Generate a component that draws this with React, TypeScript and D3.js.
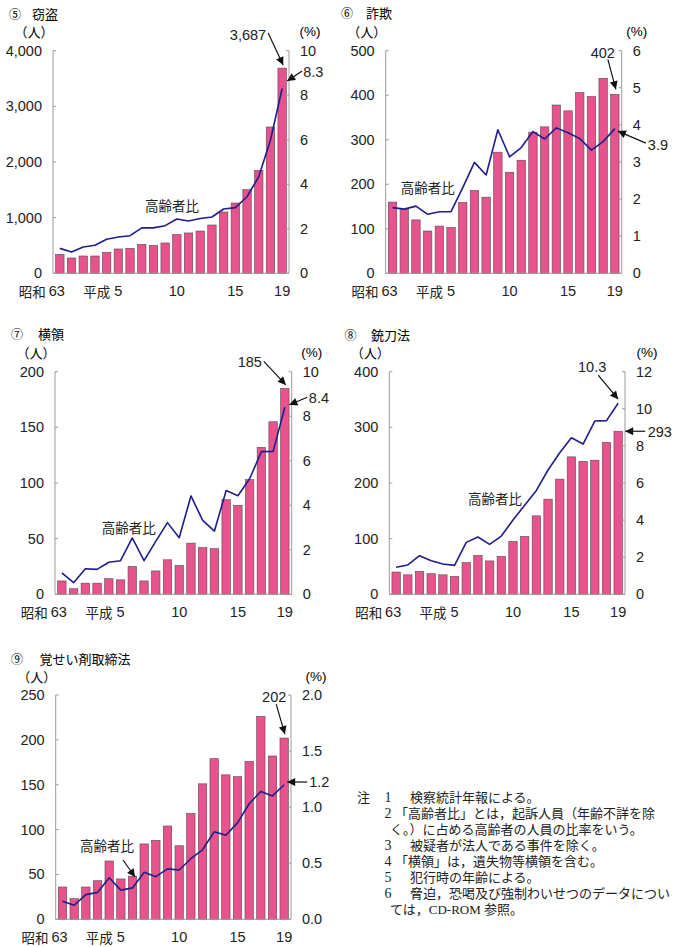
import React from "react";
import * as d3 from "d3";

// ---------- data ----------
const categories = ["昭和63", "平成元", "2", "3", "4", "5", "6", "7", "8", "9", "10", "11", "12", "13", "14", "15", "16", "17", "18", "19"];
const xTickIndex = [0, 5, 10, 15, 19];
const xTickNumber = ["63", "5", "10", "15", "19"];
const xTickEra = ["昭和", "平成", "", "", ""];

const theftCount = [340, 275, 311, 311, 377, 437, 449, 521, 503, 545, 695, 725, 760, 868, 1102, 1263, 1503, 1850, 2629, 3687];
const theftRatio = [1.12, 0.96, 1.18, 1.26, 1.53, 1.63, 1.69, 2.04, 2.04, 2.14, 2.44, 2.35, 2.46, 2.53, 2.89, 2.95, 3.44, 4.34, 5.99, 8.3];
const theftLeftTicks = [0, 1000, 2000, 3000, 4000];
const theftRightTicks = [0, 2, 4, 6, 8, 10];

const fraudCount = [160, 144, 120, 95, 106, 103, 159, 186, 171, 272, 227, 254, 317, 329, 378, 365, 406, 397, 438, 402];
const fraudRatio = [1.77, 1.73, 1.81, 1.59, 1.66, 1.66, 2.31, 2.99, 2.65, 3.87, 3.14, 3.39, 3.82, 3.62, 3.92, 3.79, 3.63, 3.32, 3.55, 3.9];
const fraudLeftTicks = [0, 100, 200, 300, 400, 500];
const fraudRightTicks = [0, 1, 2, 3, 4, 5, 6];

const embezzleCount = [12, 5, 10, 10, 14, 13, 25, 12, 21, 31, 26, 46, 42, 41, 85, 80, 103, 132, 155, 185];
const embezzleRatio = [0.96, 0.52, 1.15, 1.12, 1.44, 1.51, 2.53, 1.51, 2.38, 3.22, 2.54, 4.42, 3.32, 2.84, 4.66, 4.43, 5.19, 6.41, 6.42, 8.4];
const embezzleLeftTicks = [0, 50, 100, 150, 200];
const embezzleRightTicks = [0, 2, 4, 6, 8, 10];

const weaponsCount = [40, 35, 41, 37, 35, 32, 57, 70, 60, 68, 95, 104, 141, 171, 207, 247, 239, 241, 273, 293];
const weaponsRatio = [1.46, 1.58, 2.08, 1.81, 1.63, 1.56, 2.8, 3.09, 2.69, 3.14, 4.01, 4.8, 5.6, 6.7, 7.63, 8.44, 8.1, 9.34, 9.36, 10.3];
const weaponsLeftTicks = [0, 100, 200, 300, 400];
const weaponsRightTicks = [0, 2, 4, 6, 8, 10, 12];

const stimCount = [36, 23, 36, 43, 65, 45, 48, 84, 88, 104, 82, 118, 151, 179, 161, 159, 176, 226, 182, 202];
const stimRatio = [0.16, 0.125, 0.22, 0.24, 0.37, 0.26, 0.28, 0.42, 0.38, 0.45, 0.44, 0.54, 0.62, 0.78, 0.75, 0.86, 1.03, 1.14, 1.1, 1.2];
const stimLeftTicks = [0, 50, 100, 150, 200, 250];
const stimRightTicks = [0, 0.5, 1.0, 1.5, 2.0];

const notes = [
  { num: "注", sub: "1", text: "検察統計年報による。" },
  { num: "", sub: "2", text: "「高齢者比」とは，起訴人員（年齢不詳を除" },
  { num: "", sub: "", text: "く。）に占める高齢者の人員の比率をいう。" },
  { num: "", sub: "3", text: "被疑者が法人である事件を除く。" },
  { num: "", sub: "4", text: "「横領」は，遺失物等横領を含む。" },
  { num: "", sub: "5", text: "犯行時の年齢による。" },
  { num: "", sub: "6", text: "脅迫，恐喝及び強制わいせつのデータについ" },
  { num: "", sub: "", text: "ては，CD-ROM 参照。" },
];

// ---------- layout ----------
const comma = d3.format(",");
const intF = d3.format("d");
const oneF = d3.format(".1f");

const panels = [
  {
    num: "⑤", name: "窃盗", count: theftCount, ratio: theftRatio, lt: theftLeftTicks, rt: theftRightTicks,
    lfmt: comma, rfmt: intF, x0: 53, x1: 289, y0: 50.7, y1: 273.3, numX: 9, nameX: 32, titleY: 13,
    pctDx: 21, ratioLabel: [145, 205],
    notes: [
      { on: "bar", text: "3,687", tip: [1, -3], tail: [-14, -35], label: [-16, -33], anchor: "end" },
      { on: "line", text: "8.3", tip: [5, -7.5], tail: [20, -17.5], label: [21, -16.5], anchor: "start" },
    ],
  },
  {
    num: "⑥", name: "詐欺", count: fraudCount, ratio: fraudRatio, lt: fraudLeftTicks, rt: fraudRightTicks,
    lfmt: intF, rfmt: intF, x0: 385.7, x1: 621.7, y0: 50.7, y1: 273.3, numX: 341, nameX: 366, titleY: 12.5,
    pctDx: 15, ratioLabel: [400.7, 187],
    notes: [
      { on: "bar", text: "402", tip: [1, -5], tail: [-7, -35], label: [-12, -41], anchor: "middle" },
      { on: "line", text: "3.9", tip: [3, 2.5], tail: [31, 14.5], label: [33, 16.5], anchor: "start" },
    ],
  },
  {
    num: "⑦", name: "横領", count: embezzleCount, ratio: embezzleRatio, lt: embezzleLeftTicks, rt: embezzleRightTicks,
    lfmt: intF, rfmt: intF, x0: 55, x1: 291.7, y0: 371.7, y1: 594.3, numX: 11, nameX: 38, titleY: 333.3,
    pctDx: 20, ratioLabel: [101.7, 526.7],
    notes: [
      { on: "bar", text: "185", tip: [1, -3.5], tail: [-21, -27], label: [-23, -26.7], anchor: "end" },
      { on: "line", text: "8.4", tip: [4.5, -2.5], tail: [22.5, -10], label: [24, -9], anchor: "start" },
    ],
  },
  {
    num: "⑧", name: "銃刀法", count: weaponsCount, ratio: weaponsRatio, lt: weaponsLeftTicks, rt: weaponsRightTicks,
    lfmt: intF, rfmt: intF, x0: 389.3, x1: 625, y0: 371.7, y1: 594.3, numX: 344.5, nameX: 371, titleY: 334,
    pctDx: 22, ratioLabel: [468, 498],
    notes: [
      { on: "line", text: "10.3", tip: [0, -4], tail: [-20, -28], label: [-26, -36.5], anchor: "middle" },
      { on: "bar", text: "293", tip: [7, 0], tail: [27, 0], label: [29.5, 0.5], anchor: "start" },
    ],
  },
  {
    num: "⑨", name: "覚せい剤取締法", count: stimCount, ratio: stimRatio, lt: stimLeftTicks, rt: stimRightTicks,
    lfmt: intF, rfmt: oneF, x0: 55.7, x1: 291, y0: 695, y1: 919.3, numX: 11, nameX: 39.5, titleY: 658.3,
    pctDx: 25, ratioLabel: [80, 845], ratioArrow: [[123, 860], [135, 877]],
    notes: [
      { on: "bar", text: "202", tip: [0.7, -4], tail: [-8, -34], label: [-10, -41.4], anchor: "middle" },
      { on: "line", text: "1.2", tip: [3, -2.7], tail: [23, -2.7], label: [25, -2.7], anchor: "start" },
    ],
  },
];

const NUM_FONT = "'Liberation Sans', Arial, Helvetica, sans-serif";
const JP_FONT = "'Noto Sans CJK JP', 'Noto Sans', sans-serif";
const NOTE_FONT = "'Liberation Serif', 'Noto Sans CJK JP', serif";
const BAR_FILL = "#e8528d";
const BAR_STROKE = "#5a4a50";
const LINE_COLOR = "#1e1e8c";
const AXIS_COLOR = "#9a9a9a";

function Panel({ p }: { p: any }) {
  const x = d3
    .scaleBand<number>()
    .domain(d3.range(categories.length))
    .range([p.x0 + 1, p.x1 - 1])
    .paddingInner(0.28)
    .paddingOuter(0.14);
  const yL = d3.scaleLinear().domain([p.lt[0], p.lt[p.lt.length - 1]]).range([p.y1, p.y0]);
  const yR = d3.scaleLinear().domain([p.rt[0], p.rt[p.rt.length - 1]]).range([p.y1, p.y0]);
  const cx = (i: number) => (x(i) as number) + x.bandwidth() / 2;
  const line = d3
    .line<number>()
    .x((_, i) => cx(i))
    .y((d) => yR(d));
  const last = categories.length - 1;

  return (
    <g>
      {/* title */}
      <text x={p.numX} y={p.titleY} fontFamily={JP_FONT} fontSize={12} dominantBaseline="central">{p.num}</text>
      <text x={p.nameX} y={p.titleY} fontFamily={JP_FONT} fontSize={13} dominantBaseline="central">{p.name}</text>
      {/* units */}
      <text x={p.x0 - 19} y={p.y0 - 19} fontFamily={JP_FONT} fontSize={13} textAnchor="middle" dominantBaseline="central">（人）</text>
      <text x={p.x1 + p.pctDx} y={p.y0 - 19} fontFamily={NUM_FONT} fontSize={13.5} textAnchor="middle" dominantBaseline="central">(%)</text>

      {/* bars */}
      {p.count.map((v: number, i: number) => (
        <rect
          key={i}
          x={x(i)}
          y={yL(v)}
          width={x.bandwidth()}
          height={p.y1 - yL(v)}
          fill={BAR_FILL}
          stroke={BAR_STROKE}
          strokeWidth={0.6}
        />
      ))}

      {/* axes */}
      <line x1={p.x0} x2={p.x0} y1={p.y0} y2={p.y1} stroke={AXIS_COLOR} strokeWidth={1} />
      <line x1={p.x1} x2={p.x1} y1={p.y0} y2={p.y1} stroke={AXIS_COLOR} strokeWidth={1} />
      <line x1={p.x0} x2={p.x1} y1={p.y1} y2={p.y1} stroke={AXIS_COLOR} strokeWidth={1} />
      {p.lt.map((t: number) => (
        <g key={"l" + t}>
          <line x1={p.x0} x2={p.x0 + 3} y1={yL(t)} y2={yL(t)} stroke={AXIS_COLOR} />
          <text x={p.x0 - 11} y={yL(t)} fontFamily={NUM_FONT} fontSize={14.5} textAnchor="end" dominantBaseline="central" fill="#222">
            {p.lfmt(t)}
          </text>
        </g>
      ))}
      {p.rt.map((t: number) => (
        <g key={"r" + t}>
          <line x1={p.x1} x2={p.x1 - 3} y1={yR(t)} y2={yR(t)} stroke={AXIS_COLOR} />
          <text x={p.x1 + 11} y={yR(t)} fontFamily={NUM_FONT} fontSize={14.5} textAnchor="start" dominantBaseline="central" fill="#222">
            {p.rfmt(t)}
          </text>
        </g>
      ))}

      {/* x tick labels */}
      {xTickIndex.map((idx, k) => (
        <g key={"x" + k}>
          <text x={cx(idx) - (k === 0 ? 3 : 0)} y={p.y1 + 18} fontFamily={NUM_FONT} fontSize={14.5} textAnchor="middle" dominantBaseline="central" fill="#222">
            {xTickNumber[k]}
          </text>
          {xTickEra[k] && (
            <text x={cx(idx) - (k === 0 ? 14 : 8)} y={p.y1 + 18} fontFamily={JP_FONT} fontSize={13.5} textAnchor="end" dominantBaseline="central" fill="#222">
              {xTickEra[k]}
            </text>
          )}
        </g>
      ))}

      {/* ratio line */}
      <path d={line(p.ratio) as string} fill="none" stroke={LINE_COLOR} strokeWidth={1.6} strokeLinejoin="round" />
      <text x={p.ratioLabel[0]} y={p.ratioLabel[1]} fontFamily={JP_FONT} fontSize={13.5} dominantBaseline="central" fill="#222">
        高齢者比
      </text>
      {p.ratioArrow && (
        <line
          x1={p.ratioArrow[0][0]}
          y1={p.ratioArrow[0][1]}
          x2={p.ratioArrow[1][0]}
          y2={p.ratioArrow[1][1]}
          stroke="#111"
          strokeWidth={1.2}
          markerEnd="url(#ah)"
        />
      )}

      {/* annotations */}
      {p.notes.map((n: any, k: number) => {
        const px = cx(last);
        const py = n.on === "bar" ? yL(p.count[last]) : yR(p.ratio[last]);
        return (
          <g key={"n" + k}>
            <line
              x1={px + n.tail[0]}
              y1={py + n.tail[1]}
              x2={px + n.tip[0]}
              y2={py + n.tip[1]}
              stroke="#111"
              strokeWidth={1.2}
              markerEnd="url(#ah)"
            />
            <text
              x={px + n.label[0]}
              y={py + n.label[1]}
              fontFamily={NUM_FONT}
              fontSize={14.5}
              textAnchor={n.anchor}
              dominantBaseline="central"
              fill="#222"
            >
              {n.text}
            </text>
          </g>
        );
      })}
    </g>
  );
}

export default function App() {
  const noteY0 = 797;
  const noteStep = 16.1;
  return (
    <svg
      width={679}
      height={947}
      viewBox="0 0 679 947"
      style={{ position: "absolute", left: 0, top: 0, background: "#fff" }}
    >
      <defs>
        <marker id="ah" viewBox="0 0 10 10" refX={10} refY={5} markerWidth={9} markerHeight={8} markerUnits="userSpaceOnUse" orient="auto">
          <path d="M0,0 L10,5 L0,10 z" fill="#111" />
        </marker>
      </defs>
      <rect x={0} y={0} width={679} height={947} fill="#fff" />
      {panels.map((p, i) => (
        <Panel key={i} p={p} />
      ))}
      {notes.map((n, i) => {
        const y = noteY0 + i * noteStep;
        const startsBracket = n.text.startsWith("「");
        const tx = n.sub ? (startsBracket ? 395 : 410) : 390;
        return (
          <g key={"note" + i} fontFamily={NOTE_FONT} fontSize={13} fill="#222">
            {n.num && <text x={357} y={y} dominantBaseline="central">{n.num}</text>}
            {n.sub && <text x={384.5} y={y} fontSize={14} dominantBaseline="central">{n.sub}</text>}
            <text x={tx} y={y} dominantBaseline="central">{n.text}</text>
          </g>
        );
      })}
    </svg>
  );
}
